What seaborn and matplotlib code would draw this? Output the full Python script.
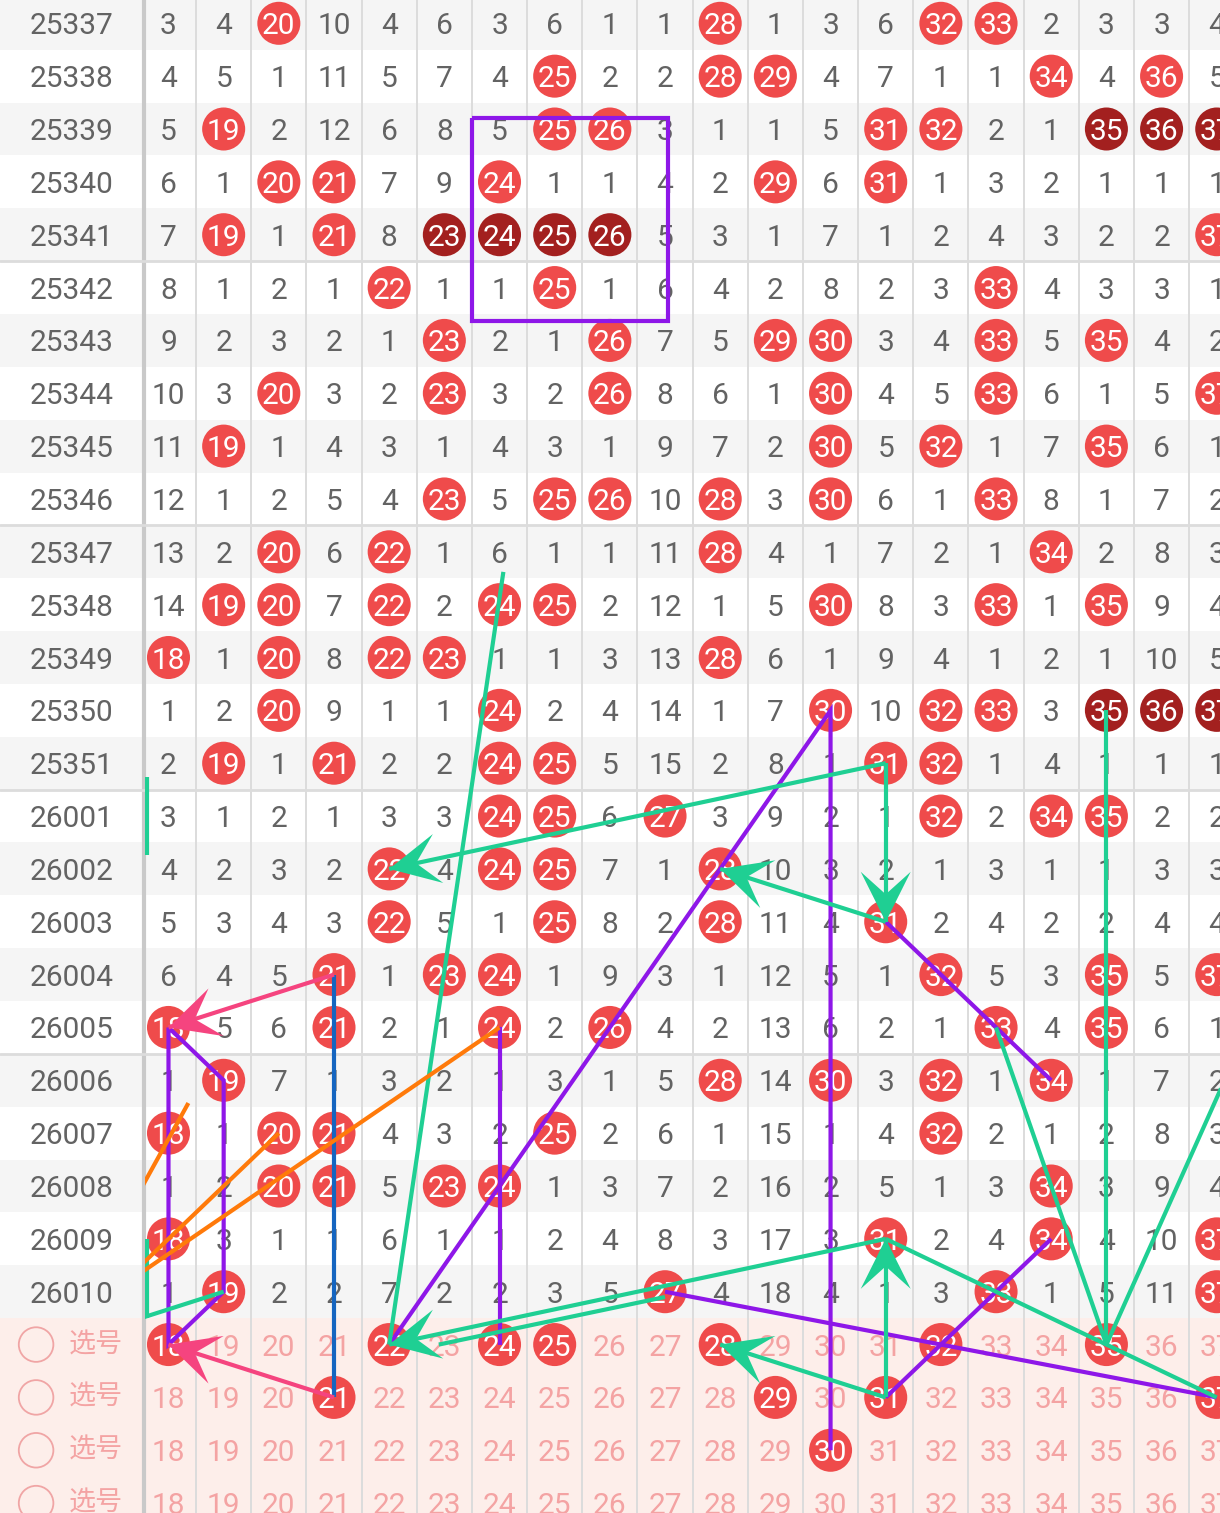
import numpy as np
import pandas as pd
import seaborn as sns
import matplotlib.pyplot as plt
from matplotlib.patches import Rectangle, Polygon

issues = ["25337", "25338", "25339", "25340", "25341", "25342", "25343", "25344",
          "25345", "25346", "25347", "25348", "25349", "25350", "25351", "26001",
          "26002", "26003", "26004", "26005", "26006", "26007", "26008", "26009",
          "26010"]
numbers = list(range(18, 38))

# omission counts per issue for numbers 18..37, 0 = drawn that issue
omission = [
    [3, 4, 0, 10, 4, 6, 3, 6, 1, 1, 0, 1, 3, 6, 0, 0, 2, 3, 3, 4],
    [4, 5, 1, 11, 5, 7, 4, 0, 2, 2, 0, 0, 4, 7, 1, 1, 0, 4, 0, 5],
    [5, 0, 2, 12, 6, 8, 5, 0, 0, 3, 1, 1, 5, 0, 0, 2, 1, 0, 0, 0],
    [6, 1, 0, 0, 7, 9, 0, 1, 1, 4, 2, 0, 6, 0, 1, 3, 2, 1, 1, 1],
    [7, 0, 1, 0, 8, 0, 0, 0, 0, 5, 3, 1, 7, 1, 2, 4, 3, 2, 2, 0],
    [8, 1, 2, 1, 0, 1, 1, 0, 1, 6, 4, 2, 8, 2, 3, 0, 4, 3, 3, 1],
    [9, 2, 3, 2, 1, 0, 2, 1, 0, 7, 5, 0, 0, 3, 4, 0, 5, 0, 4, 2],
    [10, 3, 0, 3, 2, 0, 3, 2, 0, 8, 6, 1, 0, 4, 5, 0, 6, 1, 5, 0],
    [11, 0, 1, 4, 3, 1, 4, 3, 1, 9, 7, 2, 0, 5, 0, 1, 7, 0, 6, 1],
    [12, 1, 2, 5, 4, 0, 5, 0, 0, 10, 0, 3, 0, 6, 1, 0, 8, 1, 7, 2],
    [13, 2, 0, 6, 0, 1, 6, 1, 1, 11, 0, 4, 1, 7, 2, 1, 0, 2, 8, 3],
    [14, 0, 0, 7, 0, 2, 0, 0, 2, 12, 1, 5, 0, 8, 3, 0, 1, 0, 9, 4],
    [0, 1, 0, 8, 0, 0, 1, 1, 3, 13, 0, 6, 1, 9, 4, 1, 2, 1, 10, 5],
    [1, 2, 0, 9, 1, 1, 0, 2, 4, 14, 1, 7, 0, 10, 0, 0, 3, 0, 0, 0],
    [2, 0, 1, 0, 2, 2, 0, 0, 5, 15, 2, 8, 1, 0, 0, 1, 4, 1, 1, 1],
    [3, 1, 2, 1, 3, 3, 0, 0, 6, 0, 3, 9, 2, 1, 0, 2, 0, 0, 2, 2],
    [4, 2, 3, 2, 0, 4, 0, 0, 7, 1, 0, 10, 3, 2, 1, 3, 1, 1, 3, 3],
    [5, 3, 4, 3, 0, 5, 1, 0, 8, 2, 0, 11, 4, 0, 2, 4, 2, 2, 4, 4],
    [6, 4, 5, 0, 1, 0, 0, 1, 9, 3, 1, 12, 5, 1, 0, 5, 3, 0, 5, 0],
    [0, 5, 6, 0, 2, 1, 0, 2, 0, 4, 2, 13, 6, 2, 1, 0, 4, 0, 6, 1],
    [1, 0, 7, 1, 3, 2, 1, 3, 1, 5, 0, 14, 0, 3, 0, 1, 0, 1, 7, 2],
    [0, 1, 0, 0, 4, 3, 2, 0, 2, 6, 1, 15, 1, 4, 0, 2, 1, 2, 8, 3],
    [1, 2, 0, 0, 5, 0, 0, 1, 3, 7, 2, 16, 2, 5, 1, 3, 0, 3, 9, 4],
    [0, 3, 1, 1, 6, 1, 1, 2, 4, 8, 3, 17, 3, 0, 2, 4, 0, 4, 10, 0],
    [1, 0, 2, 2, 7, 2, 2, 3, 5, 0, 4, 18, 4, 1, 3, 0, 1, 5, 11, 0],
]
# runs of consecutive numbers shown in dark red
dark_balls = {"25339": [35, 36, 37], "25341": [23, 24, 25, 26], "25350": [35, 36, 37]}

pick_label = "选号"
pick_balls = [[18, 22, 24, 25, 28, 32, 35], [21, 29, 31, 37], [30], []]

# hand drawn marks as (number, row) points; rows 25-28 are the pick rows
purple_box = [(23.5, 1.79), (27.05, 1.79), (27.05, 5.63), (23.5, 5.63), (23.5, 1.79)]
purple_lines = [
    [(22, 25), (30, 13), (30, 27)],
    [(24, 19), (24, 25)],
    [(27, 24), (37, 26)],
    [(31, 26), (34, 23)],
    [(31, 17), (34, 20)],
    [(18, 19), (19, 20), (19, 24), (18, 25), (18, 19)],
]
green_lines = [
    [(24.07, 10.38), (22, 25)],
    [(33, 19), (35, 25)],
    [(35, 13), (35, 25)],
    [(38, 18), (35, 25)],
    [(31, 23), (35, 25), (37, 26)],
    [(22.9, 25.0), (27, 24.1)],
    [(19, 24), (16, 25)],
    [(17.61, 14.26), (17.61, 15.74)],
    [(17.61, 23.0), (17.61, 24.5)],
]
green_arrows = [
    [(31, 14), (22, 16)],
    [(31, 14), (31, 17)],
    [(31, 17), (28, 16)],
    [(31, 23), (22, 25)],
    [(31, 26), (28, 25)],
    [(31, 26), (31, 23)],
]
pink_arrows = [
    [(21, 18), (18, 19)],
    [(21, 26), (18, 25)],
]
blue_lines = [[(21, 18), (21, 26)]]
orange_lines = [
    [(24, 19), (17, 24)],
    [(20, 21), (17, 24)],
    [(18.36, 20.43), (17, 23)],
]

RED = "#ef4b4b"
DARK = "#a3201f"
GREY_TXT = "#636363"
PINK_TXT = "#f4a3a3"
PURPLE = "#8e17e8"
GREEN = "#1fcf93"
PINK = "#f5447f"
BLUE = "#1565c0"
ORANGE = "#ff7a0a"


def arrow_head(ax, p_from, p_to, color, clip, length=50, width=25, notch=0.55):
    tr = ax.transData
    a, b = tr.transform([p_from, p_to])
    u = (b - a) / np.linalg.norm(b - a)
    n = np.array([-u[1], u[0]])
    base = b - length * u
    pts = [b, base + width * n, b - notch * length * u, base - width * n]
    head = Polygon(tr.inverted().transform(pts), closed=True, facecolor=color,
                   edgecolor="none", zorder=7)
    ax.add_patch(head)
    head.set_clip_path(clip)


def draw_path(ax, pts, color, clip, lw=3.0):
    xs, ys = zip(*pts)
    line, = ax.plot(xs, ys, color=color, lw=lw, zorder=6, solid_capstyle="butt",
                    solid_joinstyle="miter")
    line.set_clip_path(clip)


if __name__ == "__main__":
    sns.set_theme(style="white")
    plt.rcParams["font.family"] = ["Roboto", "Noto Sans CJK SC", "DejaVu Sans"]

    n_rows = len(issues)
    fig = plt.figure(figsize=(12.2, 15.13), dpi=100)
    ax = fig.add_axes([0, 0, 1, 1])
    ax.set_xlim(14.946, 37.059)
    ax.set_ylim(28.187, -0.441)
    ax.axis("off")

    # row backgrounds
    for i in range(n_rows):
        ax.axhspan(i - 0.5, i + 0.5, color="#f5f5f5" if i % 2 == 0 else "white", lw=0, zorder=0)
    ax.axhspan(n_rows - 0.5, 29, color="#fdeeea", lw=0, zorder=0)

    # grid lines
    for k in numbers[:-1]:
        ax.axvline(k + 0.5, color="#dcdcdc", lw=1.4, zorder=1)
    ax.axvline(17.55, color="#c9c9c9", lw=3, zorder=1)
    for i in range(4, n_rows - 1, 5):
        ax.axhline(i + 0.5, color="#dcdcdc", lw=2, zorder=1)

    fs = 21.5
    va = "center_baseline"
    # issue labels and omission numbers
    for i, issue in enumerate(issues):
        ax.text(16.25, i, issue, ha="center", va=va, fontsize=fs, color=GREY_TXT, zorder=3)
        for j, v in enumerate(omission[i]):
            if v > 0:
                ax.text(numbers[j], i, str(v), ha="center", va=va, fontsize=fs,
                        color=GREY_TXT, zorder=3)

    # pick rows
    for r in range(len(pick_balls)):
        y = n_rows + r
        ax.text(16.69, y, pick_label, ha="center", va="center", fontsize=19.5,
                color=PINK_TXT, zorder=3)
        for k in numbers:
            ax.text(k, y, str(k), ha="center", va=va, fontsize=fs, color=PINK_TXT, zorder=3)
    ax.scatter([15.6] * len(pick_balls), [n_rows + r for r in range(len(pick_balls))],
               s=620, facecolors="none", edgecolors="#f0a5a5", linewidths=1.3, zorder=3)

    # balls
    rows = []
    for i, issue in enumerate(issues):
        for j, v in enumerate(omission[i]):
            if v == 0:
                kind = "dark" if numbers[j] in dark_balls.get(issue, []) else "red"
                rows.append({"num": numbers[j], "row": i, "kind": kind})
    for r, picks in enumerate(pick_balls):
        for k in picks:
            rows.append({"num": k, "row": n_rows + r, "kind": "red"})
    balls = pd.DataFrame(rows)
    sns.scatterplot(data=balls, x="num", y="row", hue="kind",
                    palette={"red": RED, "dark": DARK}, s=960, linewidth=0,
                    legend=False, ax=ax, zorder=4)
    for _, b in balls.iterrows():
        ax.text(b["num"], b["row"], str(b["num"]), ha="center", va=va,
                fontsize=fs, color="white", zorder=5)

    ax.set_xlim(14.946, 37.059)
    ax.set_ylim(28.187, -0.441)

    # drawn marks, clipped to the number grid
    clip = Rectangle((17.57, -2), 25, 40, transform=ax.transData)
    draw_path(ax, purple_box, PURPLE, clip)
    for p in purple_lines:
        draw_path(ax, p, PURPLE, clip)
    for p in green_lines:
        draw_path(ax, p, GREEN, clip)
    for p in blue_lines:
        draw_path(ax, p, BLUE, clip)
    for p in orange_lines:
        draw_path(ax, p, ORANGE, clip)
    for a, b in green_arrows:
        draw_path(ax, [a, b], GREEN, clip)
        arrow_head(ax, a, b, GREEN, clip)
    for a, b in pink_arrows:
        draw_path(ax, [a, b], PINK, clip)
        arrow_head(ax, a, b, PINK, clip)

    fig.savefig("out.png", dpi=100)
